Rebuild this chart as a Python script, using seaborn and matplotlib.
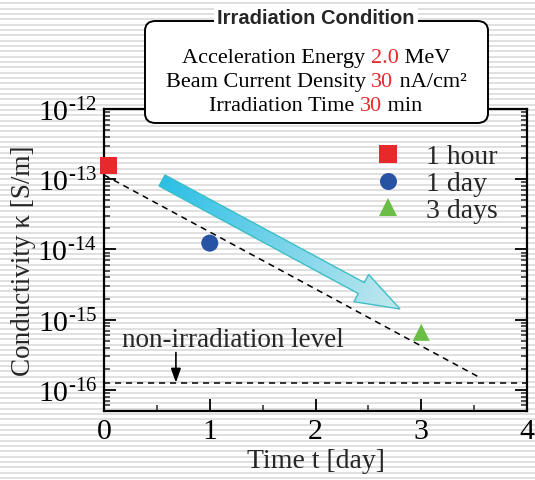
import numpy as np
import pandas as pd
import matplotlib
matplotlib.use("Agg")
import matplotlib.pyplot as plt
import seaborn as sns
from matplotlib.patches import FancyBboxPatch, Polygon
from matplotlib.ticker import FixedLocator, FixedFormatter, NullFormatter

# ---------------- data ----------------
labels = ["1 hour", "1 day", "3 days"]
t_days = [0.04, 1.0, 3.0]
kappa = [1.59e-13, 1.23e-14, 6.6e-16]
colors = ["#E8292B", "#2852A3", "#6BBE45"]
markers = ["s", "o", "^"]

fit_t = [0.0, 3.56]
fit_k = [1.15e-13, 1.48e-16]
nonirr_level = 1.27e-16

x_ticks = [0, 1, 2, 3, 4]
x_minor = [0.5, 1.5, 2.5, 3.5]
x_lim = [0, 4]
y_lim = [5e-17, 1e-12]
y_exponents = [-16, -15, -14, -13, -12]

cond_lines = [
    [("Acceleration Energy ", "black"), ("2.0", "#E8292B"), (" MeV", "black")],
    [("Beam Current Density ", "black"), ("30", "#E8292B"), (" nA/cm²", "black")],
    [("Irradiation Time ", "black"), ("30", "#E8292B"), (" min", "black")],
]

df = pd.DataFrame({"t": t_days, "k": kappa, "label": labels})

# ---------------- style ----------------
sns.set_theme(style="ticks")
plt.rcParams["font.family"] = ["Liberation Serif", "DejaVu Serif"]
plt.rcParams["mathtext.fontset"] = "custom"
plt.rcParams["mathtext.rm"] = "Liberation Serif"
plt.rcParams["mathtext.it"] = "Liberation Serif:italic"
plt.rcParams["mathtext.bf"] = "Liberation Serif:bold"
plt.rcParams["axes.unicode_minus"] = False

W, H = 535, 481
fig = plt.figure(figsize=(W / 100, H / 100), dpi=100)

# striped background
bg = fig.add_axes([0, 0, 1, 1], zorder=-10)
rows = np.arange(H)
frac = ((rows + 0.5 - 3.5) % (16 / 3))
stripe = np.where(frac < 1.8, 0.875, 1.0)[:, None]
bg.imshow(stripe, cmap="gray", vmin=0, vmax=1, aspect="auto",
          interpolation="nearest", extent=[0, 1, 0, 1], origin="upper")
bg.set_axis_off()

# main axes (pixel geometry)
L, R, T, B = 104, 527, 110, 412
ax = fig.add_axes([L / W, 1 - B / H, (R - L) / W, (B - T) / H])
ax.set_facecolor("none")
ax.set_yscale("log")

# fit line & non-irradiation level
ax.plot(fit_t, fit_k, color="black", lw=1.1, linestyle=(0, (4, 3.2)), zorder=2)
ax.axhline(nonirr_level, color="black", lw=1.1, linestyle=(0, (4, 3.2)), zorder=2)

sns.scatterplot(data=df, x="t", y="k", hue="label", style="label",
                palette=dict(zip(labels, colors)),
                markers=dict(zip(labels, markers)),
                s=150, linewidth=0, ax=ax, zorder=5, clip_on=False)

ax.set_xlim(*x_lim)
ax.set_ylim(*y_lim)
ax.set_xticks(x_ticks)
ax.set_xticks(x_minor, minor=True)
y_major = [10.0 ** e for e in y_exponents]
y_minor = [m * 10.0 ** e for e in range(-17, -12) for m in range(2, 10)
           if y_lim[0] <= m * 10.0 ** e <= y_lim[1]]
ax.yaxis.set_major_locator(FixedLocator(y_major))
ax.yaxis.set_major_formatter(FixedFormatter([r"$10^{\text{-%d}}$" % (-e) for e in y_exponents]))
ax.yaxis.set_minor_locator(FixedLocator(y_minor))
ax.yaxis.set_minor_formatter(NullFormatter())
ax.tick_params(axis="both", which="major", direction="in", length=8.5, width=1.3,
               labelsize=21.5, colors="black", pad=5)
ax.tick_params(axis="both", which="minor", direction="in", length=4.3, width=1.1)
ax.tick_params(axis="y", which="both", right=True, left=True)
ax.tick_params(axis="x", which="both", top=False, bottom=True)
for sp in ax.spines.values():
    sp.set_linewidth(1.6)
    sp.set_color("black")

ax.set_xlabel("Time t [day]", fontsize=20, labelpad=3)
ax.set_ylabel("Conductivity κ [S/m]", fontsize=19.5, labelpad=1)

# legend
handles, lbls = ax.get_legend_handles_labels()
leg = ax.legend(handles, lbls, loc="upper right", bbox_to_anchor=(0.963, 0.93),
                frameon=False, fontsize=20, handletextpad=0.35, labelspacing=0.05,
                markerscale=1.0, borderpad=0)

# non-irradiation annotation
ax.text(0.17, 5.2e-16, "non-irradiation level", fontsize=19.5, ha="left", va="center")
ax.annotate("", xy=(0.68, nonirr_level), xytext=(0.68, 3.4e-16),
            arrowprops=dict(arrowstyle="-|>,head_length=0.7,head_width=0.25",
                            color="black", lw=1.2, shrinkA=0, shrinkB=0))

# big gradient arrow (pixel geometry -> axes fraction)
tail = np.array([162.0, 181.5])
tip = np.array([400.0, 310.0])
d = tip - tail
Ltot = np.hypot(*d)
u = d / Ltot
n = np.array([-u[1], u[0]])
shaft_w, head_w, head_l = 12.5, 31.0, 44.0
base = tip - u * head_l
pts_px = [tail + n * shaft_w / 2, base + n * shaft_w / 2, base + n * head_w / 2, tip,
          base - n * head_w / 2, base - n * shaft_w / 2, tail - n * shaft_w / 2]


def px2ax(p):
    return ((p[0] - L) / (R - L), (B - p[1]) / (B - T))


pts_ax = [px2ax(p) for p in pts_px]
arrow = Polygon(pts_ax, closed=True, transform=ax.transAxes, facecolor="none",
                edgecolor="#3DBEC6", lw=1.0, zorder=4)
ax.add_patch(arrow)
xs = [p[0] for p in pts_px]
ys = [p[1] for p in pts_px]
x0, x1, y0, y1 = min(xs), max(xs), min(ys), max(ys)
gx, gy = np.meshgrid(np.linspace(x0, x1, 300), np.linspace(y1, y0, 200))
proj = ((gx - tail[0]) * u[0] + (gy - tail[1]) * u[1]) / Ltot
proj = np.clip(proj, 0, 1)
c0 = np.array([0x2B, 0xBF, 0xE6]) / 255
c1 = np.array([0xC4, 0xE8, 0xEE]) / 255
img = c0[None, None, :] * (1 - proj[..., None]) + c1[None, None, :] * proj[..., None]
ax0, ay0 = px2ax((x0, y1))
ax1, ay1 = px2ax((x1, y0))
im = ax.imshow(img, extent=[ax0, ax1, ay0, ay1], transform=ax.transAxes,
               origin="lower", aspect="auto", zorder=3, interpolation="bilinear")
im.set_clip_path(arrow)
ax.set_xlim(*x_lim)
ax.set_ylim(*y_lim)

# condition box
bx0, bx1, by0, by1 = 145, 488, 22, 124
box = FancyBboxPatch((bx0 / W, 1 - by1 / H), (bx1 - bx0) / W, (by1 - by0) / H,
                     boxstyle="round,pad=0,rounding_size=0.02",
                     transform=fig.transFigure, facecolor="white", edgecolor="black",
                     lw=1.4, zorder=20, clip_on=False)
ax.add_patch(box)
ax.text(316 / W, 1 - 18 / H, "Irradiation Condition", transform=fig.transFigure,
        ha="center", va="center", fontsize=14.5, fontweight="bold",
        family=["Liberation Sans", "DejaVu Sans"], zorder=22,
        bbox=dict(facecolor="white", edgecolor="none", pad=2))

# multi-coloured condition lines, centred at x=316 px
FS = 16
renderer = fig.canvas.get_renderer()
for i, line in enumerate(cond_lines):
    ypos = 1 - (56 + 24 * i) / H
    txts = []
    for s, c in line:
        t = ax.text(0, ypos, s, color=c, fontsize=FS, transform=fig.transFigure,
                    ha="left", va="center_baseline", zorder=22, clip_on=False)
        txts.append(t)
    cum = []
    acc = ""
    for s, c in line:
        if acc:
            tmp = ax.text(0.5, 0.5, acc, fontsize=FS, transform=fig.transFigure)
            w = tmp.get_window_extent(renderer=renderer).width
            tmp.remove()
        else:
            w = 0.0
        cum.append(w)
        acc += s
    tmp = ax.text(0.5, 0.5, acc, fontsize=FS, transform=fig.transFigure)
    total = tmp.get_window_extent(renderer=renderer).width
    tmp.remove()
    start = 316 - total / 2
    for t, off in zip(txts, cum):
        t.set_x((start + off) / W)

fig.savefig("out.png", dpi=100)
